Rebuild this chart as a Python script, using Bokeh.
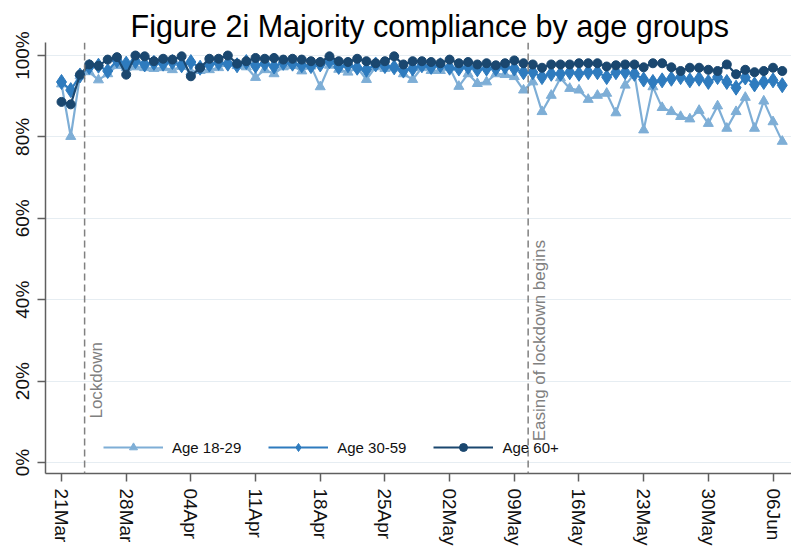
import pandas as pd
from bokeh.plotting import figure
from bokeh.models import (ColumnDataSource, Span, Label, Legend, LegendItem, FixedTicker,
                          DatetimeTickFormatter, PrintfTickFormatter, Range1d)
from bokeh.embed import file_html
from bokeh.resources import INLINE

# ---------------- data ----------------
dates = pd.date_range("2020-03-21", "2020-06-07", freq="D")

age_18_29 = [93.0, 80.1, 95.0, 96.0, 94.0, 95.5, 97.5, 97.0, 97.2, 97.0,
             96.8, 97.0, 96.5, 97.3, 96.0, 96.3, 96.5, 97.0, 98.0, 97.5,
             97.2, 94.6, 96.5, 95.5, 97.2, 97.5, 96.2, 97.4, 92.3, 97.6,
             96.6, 95.9, 97.0, 94.1, 97.2, 96.8, 97.0, 95.5, 94.1, 97.0,
             96.3, 96.3, 97.0, 92.4, 95.5, 93.1, 93.5, 95.5, 95.3, 94.8,
             91.5, 93.5, 86.2, 90.2, 94.5, 91.9, 91.5, 89.2, 90.2, 90.7,
             85.9, 92.7, 95.5, 81.7, 92.3, 87.2, 86.2, 85.0, 84.4, 86.5,
             83.3, 87.6, 82.1, 86.2, 89.7, 82.1, 88.8, 83.7, 78.9]

age_30_59 = [93.5, 91.5, 95.1, 97.2, 97.5, 96.2, 98.8, 98.0, 98.6, 97.8,
             98.2, 98.0, 98.4, 97.6, 98.4, 97.0, 97.8, 98.2, 98.0, 97.6,
             98.4, 97.5, 98.0, 97.3, 98.2, 98.0, 97.6, 97.4, 97.8, 98.6,
             97.2, 97.6, 97.0, 96.5, 97.8, 97.4, 97.1, 96.3, 96.8, 97.6,
             97.2, 97.6, 97.0, 96.8, 97.2, 96.6, 96.8, 96.8, 97.2, 96.8,
             95.9, 95.9, 94.7, 95.5, 95.5, 95.9, 95.5, 95.9, 95.9, 94.7,
             95.9, 95.9, 95.5, 94.1, 93.5, 93.9, 94.3, 94.7, 93.9, 94.3,
             93.5, 94.7, 93.5, 92.1, 94.6, 92.9, 93.5, 93.9, 92.7]

age_60_plus = [88.6, 88.0, 95.3, 97.8, 97.5, 99.0, 99.6, 95.3, 100.0, 99.8,
               98.6, 99.2, 99.0, 99.8, 94.9, 97.0, 99.2, 99.2, 100.0, 98.0,
               98.6, 99.4, 99.2, 99.4, 99.0, 99.2, 99.0, 98.6, 98.4, 99.8,
               98.6, 98.4, 99.2, 98.6, 98.1, 98.6, 99.8, 97.8, 98.6, 98.6,
               98.4, 98.1, 99.0, 98.1, 98.4, 97.8, 98.1, 97.6, 98.1, 98.8,
               98.1, 97.8, 97.0, 97.8, 97.8, 97.8, 98.1, 98.1, 98.1, 97.3,
               97.6, 97.8, 97.8, 97.1, 98.1, 98.1, 97.1, 96.2, 97.0, 97.0,
               96.5, 96.2, 97.8, 95.4, 96.5, 95.9, 96.2, 97.0, 96.2]

series_names = ["Age 18-29", "Age 30-59", "Age 60+"]
tick_dates = ["2020-03-21", "2020-03-28", "2020-04-04", "2020-04-11", "2020-04-18",
              "2020-04-25", "2020-05-02", "2020-05-09", "2020-05-16", "2020-05-23",
              "2020-05-30", "2020-06-06"]
y_ticks = [0, 20, 40, 60, 80, 100]
events = [("2020-03-23 12:00", "Lockdown", 10.8),
          ("2020-05-10 12:00", "Easing of lockdown begins", 5.2)]
title_text = "Figure 2i Majority compliance by age groups"

# ---------------- helpers ----------------
DAY = 86400000.0
def ms(s):
    return pd.Timestamp(s).value / 1e6

x0 = ms("2020-03-21")
FONT = "Liberation Sans"

source = ColumnDataSource(dict(date=dates, a=age_18_29, b=age_30_59, c=age_60_plus))

p = figure(width=791, height=553, output_backend="svg", toolbar_location=None,
           x_axis_type="datetime",
           x_range=Range1d(x0 - 1.732 * DAY, x0 + 79.0 * DAY),
           y_range=Range1d(-2.7, 103.2),
           min_border_left=45, min_border_right=0, min_border_bottom=80, min_border_top=42)

p.title.text = title_text
p.title.align = "left"
p.title.offset = 85
p.title.text_font = FONT
p.title.text_font_size = "30.5px"
p.title.text_font_style = "normal"
p.title.text_color = "#000000"
p.title.standoff = 0

p.outline_line_color = None
p.background_fill_color = "white"
p.border_fill_color = "white"

# grid
p.xgrid.grid_line_color = None
p.ygrid.grid_line_color = "#E6EDF2"
p.ygrid.grid_line_width = 1.2
p.ygrid.ticker = FixedTicker(ticks=y_ticks)

# axes
for ax in (p.xaxis[0], p.yaxis[0]):
    ax.axis_line_color = "#5F5F5F"
    ax.axis_line_width = 1.5
    ax.major_tick_line_color = "#5F5F5F"
    ax.major_tick_line_width = 1.5
    ax.major_tick_out = 8
    ax.major_tick_in = 0
    ax.minor_tick_line_color = None
    ax.major_label_text_font = FONT
    ax.major_label_text_font_size = "19px"
    ax.major_label_text_color = "#111111"
    ax.major_label_orientation = "vertical"

p.xaxis.ticker = FixedTicker(ticks=[ms(d) for d in tick_dates])
p.xaxis.formatter = DatetimeTickFormatter(days="%d%b", months="%d%b", hours="%d%b",
                                          years="%d%b", minutes="%d%b", hourmin="%d%b")
p.xaxis.major_label_standoff = 7
p.yaxis.ticker = FixedTicker(ticks=y_ticks)
p.yaxis.formatter = PrintfTickFormatter(format="%d%%")
p.yaxis.major_label_standoff = 4

# event lines
for when, txt, ypos in events:
    p.add_layout(Span(location=ms(when), dimension="height", line_color="#808080",
                      line_width=1.5, line_dash="7 4"))
    p.add_layout(Label(x=ms(when), y=ypos, text=txt, angle=90, angle_units="deg",
                       x_offset=2, text_align="left", text_baseline="top",
                       text_font=FONT, text_font_size="17px", text_color="#808080"))

# series
colors = ["#7EAED6", "#2E7BBE", "#1A476F"]
l1 = p.line("date", "a", source=source, line_color=colors[0], line_width=2.2)
m1 = p.scatter("date", "a", source=source, marker="triangle", size=10,
               fill_color=colors[0], line_color=colors[0])
l2 = p.line("date", "b", source=source, line_color=colors[1], line_width=2.2)
m2 = p.scatter("date", "b", source=source, marker="diamond", size=15,
               fill_color=colors[1], line_color=colors[1])
l3 = p.line("date", "c", source=source, line_color=colors[2], line_width=2.2)
m3 = p.scatter("date", "c", source=source, marker="circle", size=9,
               fill_color=colors[2], line_color=colors[2])

legend = Legend(items=[LegendItem(label=series_names[0], renderers=[l1, m1]),
                       LegendItem(label=series_names[1], renderers=[l2, m2]),
                       LegendItem(label=series_names[2], renderers=[l3, m3])],
                orientation="horizontal", location=(58, 16),
                glyph_width=60, glyph_height=20, label_standoff=9, spacing=27,
                padding=0, margin=0, border_line_color=None, background_fill_alpha=0,
                label_text_font=FONT, label_text_font_size="15px",
                label_text_color="#111111")
p.add_layout(legend, "center")

open("out.html", "w").write(file_html(p, INLINE))
